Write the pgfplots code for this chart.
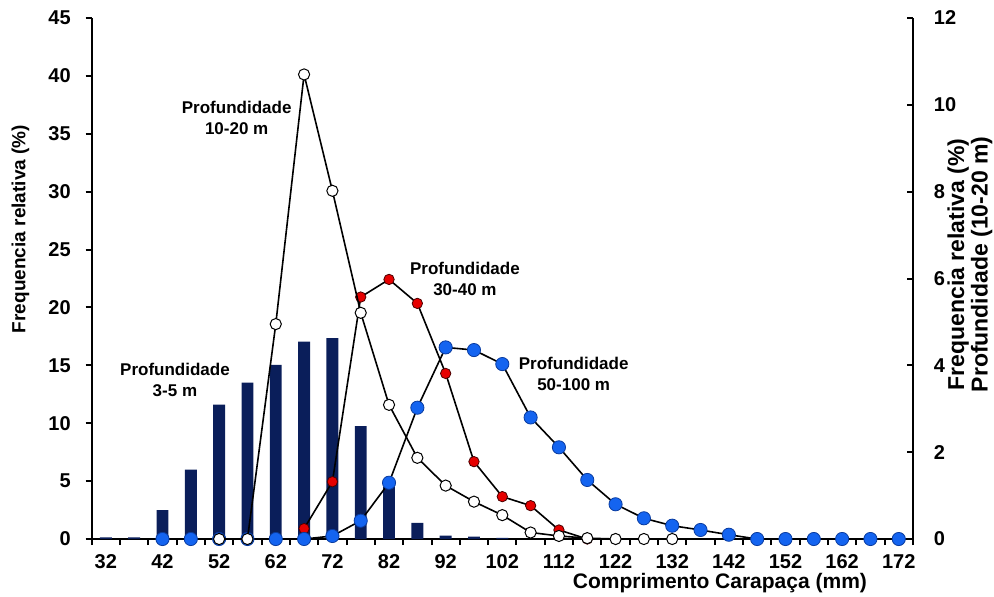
\documentclass[border=0pt]{standalone}
\usepackage{pgfplots}
\pgfplotsset{compat=1.18}
\usepackage{fontspec}
\setmainfont{Liberation Sans}
\definecolor{barblue}{RGB}{10,30,90}
\definecolor{ptblue}{RGB}{20,100,240}
\definecolor{ptblueedge}{RGB}{10,60,160}
\definecolor{ptred}{RGB}{230,0,0}
\begin{document}
\begin{tikzpicture}
\useasboundingbox (0,0) rectangle (497pt,298pt);
\pgfplotsset{
  base/.style={
    width=410.6pt, height=260.5pt, scale only axis,
    at={(45.85pt,28.5pt)}, anchor=south west,
    xmin=29.5, xmax=174.5, ymin=0,
    clip=false,
    axis line style={-, line width=1pt},
    tick style={line width=1pt, black},
    major tick length=3pt,
    minor tick length=3pt,
    ticklabel style={font=\fontsize{10}{12}\selectfont\bfseries},
    /pgf/number format/assume math mode=true,
  }}
\begin{axis}[base, ymax=45,
  axis x line*=bottom, axis y line*=left,
  xtick={32,42,...,172}, minor xtick={29.5,34.5,...,174.5},
  major x tick style={draw=none},
  ytick={0,5,...,45}, tick align=outside,
  yticklabel style={xshift=-4pt},
  xticklabel style={yshift=-1pt}]
% bars: Profundidade 3-5 m
\addplot[ybar, bar width=2.1, fill=barblue, draw=none] coordinates {
 (32,0.15) (37,0.15) (42,2.5) (47,6.0) (52,11.6) (57,13.5) (62,15.05)
 (67,17.05) (72,17.35) (77,9.75) (82,4.5) (87,1.4) (92,0.3) (97,0.2) (102,0.1)};
% Profundidade 30-40 m
\addplot[black, line width=0.8pt, mark=*, mark size=2.6pt,
  mark options={fill=ptred, draw=black!70!red, line width=0.4pt}] coordinates {
 (67,0.9) (72,4.95) (77,20.9) (82,22.42) (87,20.35) (92,14.3) (97,6.68)
 (102,3.66) (107,2.88) (112,0.78) (117,0)};
% Profundidade 50-100 m
\addplot[black, line width=0.8pt, mark=*, mark size=3.3pt,
  mark options={fill=ptblue, draw=ptblueedge, line width=0.4pt}] coordinates {
 (42,0) (47,0) (52,0) (57,0) (62,0) (67,0) (72,0.26) (77,1.58) (82,4.86)
 (87,11.34) (92,16.55) (97,16.32) (102,15.11) (107,10.5) (112,7.92) (117,5.1)
 (122,3.0) (127,1.79) (132,1.15) (137,0.78) (142,0.37) (147,0) (152,0)
 (157,0) (162,0) (167,0) (172,0)};
\node[font=\fontsize{8.5}{10.5}\selectfont\bfseries, align=center] at (axis cs:44.2,13.7) {Profundidade\\3-5 m};
\node[font=\fontsize{8.5}{10.5}\selectfont\bfseries, align=center] at (axis cs:55.1,36.4) {Profundidade\\10-20 m};
\node[font=\fontsize{8.5}{10.5}\selectfont\bfseries, align=center] at (axis cs:95.4,22.5) {Profundidade\\30-40 m};
\node[font=\fontsize{8.5}{10.5}\selectfont\bfseries, align=center] at (axis cs:114.6,14.3) {Profundidade\\50-100 m};
\node[rotate=90, font=\fontsize{9.5}{11}\selectfont\bfseries] at (rel axis cs:-0.0867,0.595) {Frequencia relativa (\%)};
\node[rotate=90, align=center, font=\fontsize{11.5}{10.5}\selectfont\bfseries] at (rel axis cs:1.0694,0.527) {Frequencia relativa (\%)\\Profundidade (10-20 m)};
\node[font=\fontsize{10.5}{12}\selectfont\bfseries] at (rel axis cs:0.765,-0.0845) {Comprimento Carapaça (mm)};
\end{axis}
\begin{axis}[base, ymax=12,
  axis y line*=right, axis x line=none,
  ytick={0,2,...,12}, tick align=inside,
  yticklabel style={xshift=7pt}]
% Profundidade 10-20 m (right axis)
\addplot[black, line width=0.8pt, mark=*, mark size=2.8pt,
  mark options={fill=white, draw=black, line width=0.5pt}] coordinates {
 (52,0) (57,0) (62,4.95) (67,10.70) (72,8.02) (77,5.21) (82,3.09) (87,1.87)
 (92,1.23) (97,0.86) (102,0.55) (107,0.15) (112,0.07) (117,0.02) (122,0)
 (127,0) (132,0)};
\end{axis}
\end{tikzpicture}
\end{document}
